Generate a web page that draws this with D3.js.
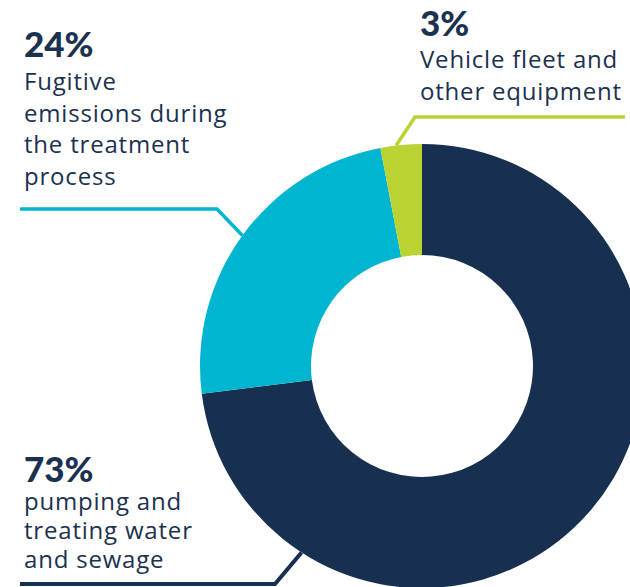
<!DOCTYPE html>
<html>
<head>
<meta charset="utf-8">
<script src="https://cdn.jsdelivr.net/npm/d3@7/dist/d3.min.js"></script>
<style>
  body { margin: 0; background: #fff; }
  svg { display: block; }
  text { font-family: "Open Sans", Lato, sans-serif; fill: #1b3150; }
</style>
</head>
<body>
<div id="chart"></div>
<script>
// slice data, in drawing order clockwise from 12 o'clock
var categories = ["pumping and treating water and sewage", "Fugitive emissions during the treatment process", "Vehicle fleet and other equipment"]
var shares = [73, 24, 3]
var colors = ["#17304f", "#00b5cf", "#bad332"]
// where along each slice the leader line touches (0..1)
var leaderAt = [0.81, 0.5, 0.38]
var pctLabels = ["73%", "24%", "3%"]
var bodyLines = [
  ["pumping and", "treating water", "and sewage"],
  ["Fugitive", "emissions during", "the treatment", "process"],
  ["Vehicle fleet and", "other equipment"]
]

var width = 630
var height = 587
var cx = 422, cy = 366
var outerR = 222, innerR = 111

// label layout: text block position and the leader's elbow
var layout = [
  { x: 24, pctY: 482, lineY: 510, lineH: 29, elbow: [275, 584], end: 20 },
  { x: 24, pctY: 57, lineY: 90, lineH: 31.7, elbow: [217, 209], end: 20 },
  { x: 420, pctY: 36, lineY: 68, lineH: 32, elbow: [415, 117], end: 625 }
]

var svg = d3.select("#chart").append("svg")
  .attr("width", width)
  .attr("height", height)

var pie = d3.pie().sort(null).value(function(d){ return d })
var arcs = pie(shares)

var arc = d3.arc().innerRadius(innerR).outerRadius(outerR)

var g = svg.append("g").attr("transform", "translate(" + cx + "," + cy + ")")

g.selectAll("path.slice")
  .data(arcs)
  .enter()
  .append("path")
  .attr("class", "slice")
  .attr("d", arc)
  .attr("fill", function(d, i){ return colors[i] })

// leader lines: from label underline, through elbow, to the slice's outer edge
arcs.forEach(function(a, i){
  var ang = a.startAngle + (a.endAngle - a.startAngle) * leaderAt[i]
  var px = cx + Math.sin(ang) * outerR
  var py = cy - Math.cos(ang) * outerR
  var L = layout[i]
  svg.append("path")
    .attr("d", d3.line()([[L.end, L.elbow[1]], L.elbow, [px, py]]))
    .attr("fill", "none")
    .attr("stroke", colors[i])
    .attr("stroke-width", i === 0 ? 4 : 3.5)
})

// labels
layout.forEach(function(L, i){
  svg.append("text")
    .attr("x", L.x)
    .attr("y", L.pctY)
    .style("font-family", "Lato, sans-serif")
    .style("font-size", "35px")
    .style("font-weight", 900)
    .text(pctLabels[i])

  bodyLines[i].forEach(function(line, j){
    svg.append("text")
      .attr("x", L.x)
      .attr("y", L.lineY + j * L.lineH)
      .style("font-size", "24px")
      .style("letter-spacing", "0.8px")
      .text(line)
  })
})
</script>
</body>
</html>
